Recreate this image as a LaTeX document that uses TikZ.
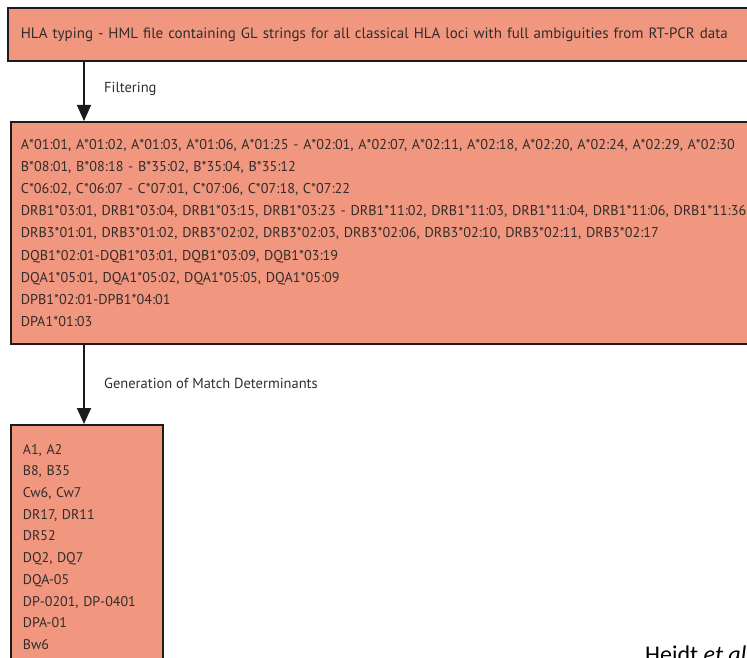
\documentclass[tikz,border=0pt]{standalone}
\usepackage{fontspec}
\setmainfont{PT Sans}
\newfontfamily\creditfont{Carlito}
\usetikzlibrary{arrows.meta}
\definecolor{boxfill}{RGB}{241,151,128}
\definecolor{boxline}{RGB}{28,28,28}
\definecolor{boxtext}{RGB}{50,44,42}
\begin{document}
\begin{tikzpicture}[x=1pt,y=-1pt,
  panel/.style={draw=boxline, line width=1.8pt, fill=boxfill, anchor=north west,
    align=left, text=boxtext},
  listing/.style={font=\fontsize{14.2}{22.2}\selectfont},
  shortlist/.style={font=\fontsize{14}{21.7}\selectfont},
  flow/.style={line width=1.6pt, draw=boxline, -{Triangle[length=16pt,width=14pt]}},
  steplabel/.style={anchor=west, inner sep=0pt, text=boxtext, font=\fontsize{14.5}{16}\selectfont}]
\useasboundingbox (0,0) rectangle (747,658);
\clip (0,0) rectangle (747,658);

% input typing record
\node[panel, minimum width=790pt, minimum height=53pt, text width=770pt, inner xsep=13pt,
  font=\fontsize{15}{17}\selectfont] (typing) at (7,7)
  {HLA typing - HML file containing GL strings for all classical HLA loci with full ambiguities from RT-PCR data};

% filtered allele lists
\node[panel, listing, minimum width=800pt, minimum height=222pt, text width=780pt, inner xsep=10pt] (alleles) at (10,121)
  {A*01:01, A*01:02, A*01:03, A*01:06, A*01:25 - A*02:01, A*02:07, A*02:11, A*02:18, A*02:20, A*02:24, A*02:29, A*02:30\\
   B*08:01, B*08:18 - B*35:02, B*35:04, B*35:12\\
   C*06:02, C*06:07 - C*07:01, C*07:06, C*07:18, C*07:22\\
   DRB1*03:01, DRB1*03:04, DRB1*03:15, DRB1*03:23 - DRB1*11:02, DRB1*11:03, DRB1*11:04, DRB1*11:06, DRB1*11:36\\
   DRB3*01:01, DRB3*01:02, DRB3*02:02, DRB3*02:03, DRB3*02:06, DRB3*02:10, DRB3*02:11, DRB3*02:17\\
   DQB1*02:01-DQB1*03:01, DQB1*03:09, DQB1*03:19\\
   DQA1*05:01, DQA1*05:02, DQA1*05:05, DQA1*05:09\\
   DPB1*02:01-DPB1*04:01\\
   DPA1*01:03};

% resulting match determinants
\node[panel, shortlist, minimum width=152pt, minimum height=244pt, text width=128pt, inner xsep=12pt] (determinants) at (10,424)
  {A1, A2\\ B8, B35\\ Cw6, Cw7\\ DR17, DR11\\ DR52\\ DQ2, DQ7\\ DQA-05\\ DP-0201, DP-0401\\ DPA-01\\ Bw6};

% processing steps
\coordinate (spine) at (84,0);
\draw[flow] (typing.south -| spine) -- (alleles.north -| spine);
\draw[flow] (alleles.south -| spine) -- (determinants.north -| spine);
\node[steplabel] (filtering) at (104,89) {Filtering};
\node[steplabel] (generation) at (104,383) {Generation of Match Determinants};

% source
\node[anchor=base west, inner sep=0pt, font=\creditfont\fontsize{24}{28}\selectfont] (credit) at (645,662)
  {Heidt \textit{et al.}};
\end{tikzpicture}
\end{document}
